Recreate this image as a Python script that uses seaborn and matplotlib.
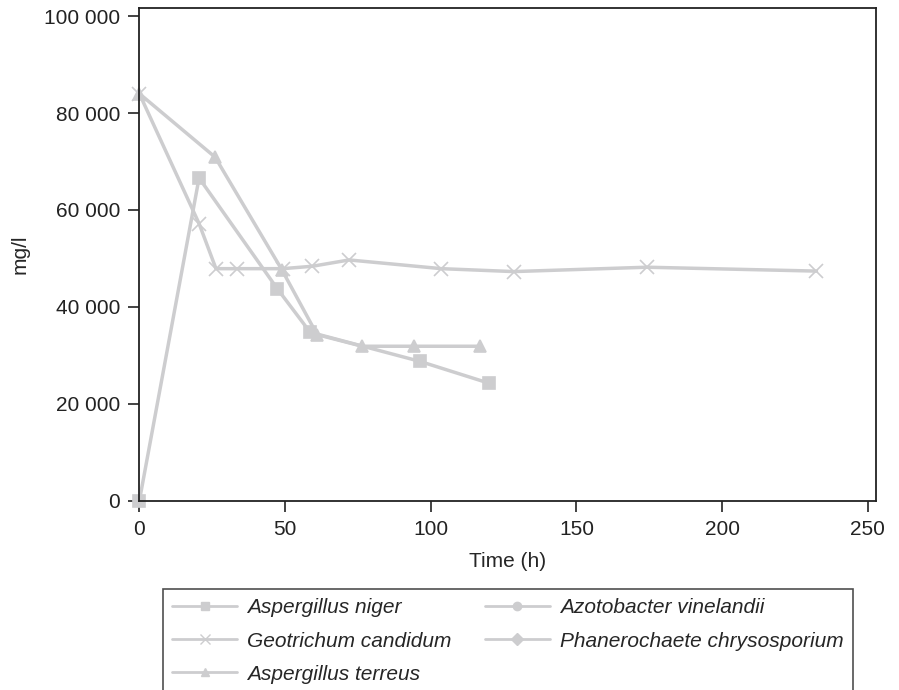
import matplotlib
matplotlib.use("Agg")
import matplotlib.pyplot as plt
import matplotlib.ticker as mticker
import seaborn as sns
import pandas as pd

# values
niger_t = [0, 20.5, 47.3, 58.6, 96.2, 119.9]
niger_c = [0, 66600, 43800, 34800, 28800, 24300]

geo_t = [0, 20.5, 26.3, 33.4, 49.2, 59.4, 72.0, 103.7, 128.5, 174.2, 232.4]
geo_c = [84000, 57200, 47900, 47900, 47900, 48400, 49700, 47900, 47300, 48200, 47400]

terreus_t = [0, 26.0, 48.9, 61.0, 76.5, 94.3, 116.8]
terreus_c = [84000, 70900, 47700, 34300, 31900, 31900, 31900]

series = ["Aspergillus niger", "Geotrichum candidum", "Aspergillus terreus"]
empty_series = ["Azotobacter vinelandii", "Phanerochaete chrysosporium"]

x_ticks = [0, 50, 100, 150, 200, 250]
y_ticks = [0, 20000, 40000, 60000, 80000, 100000]

grey = "#cdcdcf"

sns.set_style("ticks")
plt.rcParams["font.family"] = ["Liberation Sans", "DejaVu Sans"]

fig = plt.figure(figsize=(8.99, 6.90), dpi=100)
ax = fig.add_axes([0.155, 0.274, 0.819, 0.714])

frames = [
    pd.DataFrame({"t": niger_t, "c": niger_c, "org": series[0]}),
    pd.DataFrame({"t": geo_t, "c": geo_c, "org": series[1]}),
    pd.DataFrame({"t": terreus_t, "c": terreus_c, "org": series[2]}),
]
markers = {series[0]: "s", series[1]: "x", series[2]: "^"}
msize = {series[0]: 8, series[1]: 10, series[2]: 8}

for df in frames:
    name = df["org"].iloc[0]
    sns.lineplot(data=df, x="t", y="c", ax=ax, color=grey, lw=2.5,
                 marker=markers[name], ms=msize[name], mec=grey, mfc=grey,
                 mew=1.2, sort=False, label=name, legend=False, clip_on=False)

handles = [
    plt.Line2D([], [], color=grey, lw=2, marker="s", ms=6, mec=grey),
    plt.Line2D([], [], color=grey, lw=2, marker="x", ms=7, mec=grey, mew=1),
    plt.Line2D([], [], color=grey, lw=2, marker="^", ms=6, mec=grey),
    plt.Line2D([], [], color=grey, lw=2, marker="o", ms=6, mec=grey),
    plt.Line2D([], [], color=grey, lw=2, marker="D", ms=6, mec=grey),
]
labels = [series[0], series[1], series[2], empty_series[0], empty_series[1]]

ax.set_xlim(0, 252.7)
ax.set_ylim(0, 101600)
ax.set_xticks(x_ticks)
ax.set_yticks(y_ticks)
ax.yaxis.set_major_formatter(
    mticker.FuncFormatter(lambda v, p: f"{int(v):,}".replace(",", " ")))
ax.tick_params(direction="out", length=8, width=1.2, labelsize=15,
               colors="#222222", pad=6)
for s in ax.spines.values():
    s.set_linewidth(1.3)
    s.set_color("#222222")
ax.set_xlabel("Time (h)", fontsize=15, labelpad=9)
ax.set_ylabel("mg/l", fontsize=15, labelpad=10)

leg = fig.legend(handles, labels, ncol=2, loc="upper left",
                 bbox_to_anchor=(163 / 899, 1 - 589 / 690),
                 prop={"style": "italic", "size": 15}, frameon=True,
                 fancybox=False, edgecolor="#222222", handlelength=3.1,
                 handletextpad=0.5, columnspacing=1.6, labelspacing=0.68,
                 borderaxespad=0, borderpad=0.45)
leg.get_frame().set_linewidth(1.2)

fig.savefig("out.png", dpi=100)
